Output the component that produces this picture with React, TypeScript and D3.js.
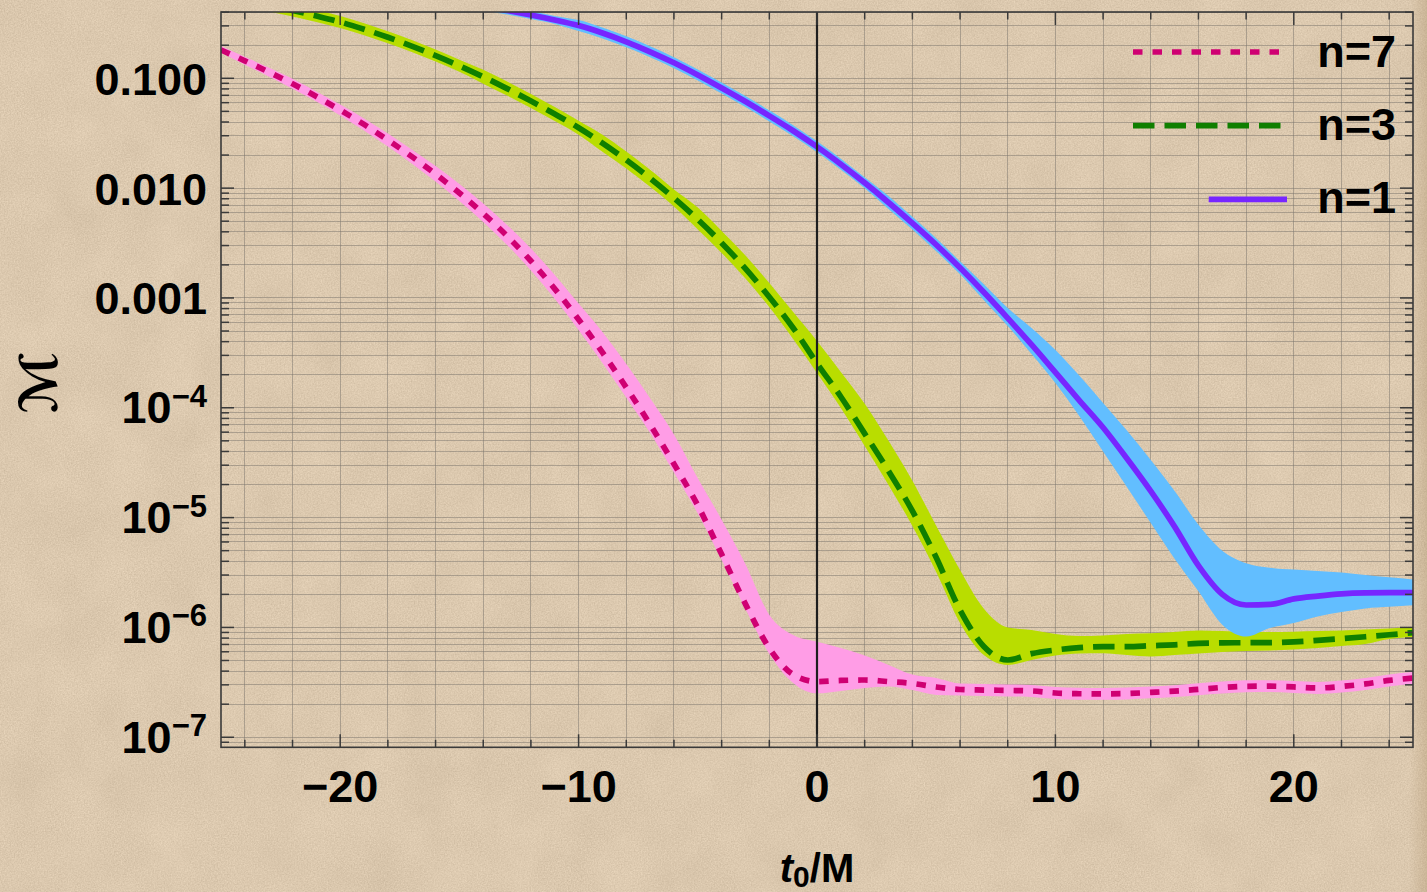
import React from 'react';
import * as d3 from 'd3';

// t0/M sample points
const t0 = [
  -25, -24, -23, -22, -21, -20, -19, -18, -17, -16, -15, -14, -13, -12, -11, -10, -9, -8, -7, -6, -5, -4, -3, -2, -1,
  0, 1, 2, 3, 4, 5, 6, 7, 8, 9, 10, 11, 12, 13, 14, 15, 16, 17, 18, 19, 20, 21, 22, 23, 24, 25,
];

// n = 7 (pink, dotted)
const n7Mid = [
  0.181, 0.1443, 0.1141, 0.0891, 0.0683, 0.0514, 0.038, 0.0274, 0.0194, 0.01342, 0.00903, 0.00587, 0.00367, 0.00217,
  0.00121, 6.37e-4, 3.19e-4, 1.53e-4, 7.05e-5, 3.08e-5, 1.29e-5, 4.63e-6, 1.63e-6, 6.47e-7, 3.73e-7,
  3.21e-7, 3.29e-7, 3.32e-7, 3.21e-7, 3.09e-7, 2.87e-7, 2.72e-7, 2.69e-7, 2.67e-7, 2.64e-7, 2.53e-7, 2.49e-7, 2.48e-7,
  2.5e-7, 2.56e-7, 2.63e-7, 2.73e-7, 2.84e-7, 2.91e-7, 2.92e-7, 2.87e-7, 2.81e-7, 2.9e-7, 3.06e-7, 3.29e-7, 3.46e-7,
];
const n7Hi = [
  0.197, 0.1569, 0.1254, 0.0989, 0.0758, 0.0577, 0.0431, 0.0314, 0.02247, 0.01588, 0.0109, 0.00724, 0.00462, 0.00282,
  0.00162, 8.9e-4, 4.9e-4, 2.5e-4, 1.22e-4, 5.72e-5, 2.28e-5, 9.57e-6, 3.77e-6, 1.3e-6, 8.53e-7,
  7.4e-7, 6.5e-7, 5.55e-7, 4.55e-7, 3.72e-7, 3.46e-7, 3.08e-7, 3.05e-7, 3.03e-7, 2.99e-7, 2.87e-7, 2.82e-7, 2.81e-7,
  2.84e-7, 2.9e-7, 2.98e-7, 3.1e-7, 3.22e-7, 3.3e-7, 3.31e-7, 3.25e-7, 3.19e-7, 3.29e-7, 3.47e-7, 3.73e-7, 3.92e-7,
];
const n7Lo = [
  0.1714, 0.1327, 0.1038, 0.0803, 0.0615, 0.0459, 0.0335, 0.0239, 0.01676, 0.01147, 0.00763, 0.00491, 0.00304, 0.00178,
  9.81e-4, 5.11e-4, 2.56e-4, 1.24e-4, 5.89e-5, 2.57e-5, 1.09e-5, 4.11e-6, 1.47e-6, 5.73e-7, 3.12e-7,
  2.51e-7, 2.64e-7, 2.81e-7, 2.9e-7, 2.69e-7, 2.43e-7, 2.4e-7, 2.37e-7, 2.35e-7, 2.33e-7, 2.23e-7, 2.2e-7, 2.19e-7,
  2.21e-7, 2.26e-7, 2.32e-7, 2.41e-7, 2.5e-7, 2.57e-7, 2.58e-7, 2.53e-7, 2.48e-7, 2.56e-7, 2.7e-7, 2.9e-7, 3.05e-7,
];

// n = 3 (green, dashed)
const n3Mid = [
  0.55, 0.5056, 0.46, 0.4144, 0.3693, 0.3256, 0.2793, 0.2362, 0.1964, 0.1609, 0.1299, 0.1032, 0.0806, 0.0621, 0.0473,
  0.0355, 0.02565, 0.01804, 0.01229, 0.00813, 0.00519, 0.00317, 0.00185, 0.00102, 5.33e-4,
  2.54e-4, 1.26e-4, 5.82e-5, 2.66e-5, 1.15e-5, 4.33e-6, 1.44e-6, 6.71e-7, 5.05e-7, 5.77e-7, 6.23e-7, 6.54e-7, 6.68e-7,
  6.68e-7, 6.81e-7, 6.95e-7, 7.16e-7, 7.23e-7, 7.26e-7, 7.28e-7, 7.39e-7, 7.62e-7, 7.9e-7, 8.22e-7, 8.57e-7, 8.96e-7,
];
const n3Hi = [
  0.624, 0.573, 0.522, 0.47, 0.419, 0.369, 0.3167, 0.2679, 0.2227, 0.1825, 0.1473, 0.1195, 0.0933, 0.0719, 0.0548,
  0.0411, 0.03065, 0.02156, 0.01469, 0.00972, 0.00667, 0.00408, 0.00243, 0.001368, 7.45e-4,
  4.06e-4, 2.12e-4, 1.09e-4, 5.0e-5, 2.17e-5, 8.44e-6, 3.33e-6, 1.48e-6, 9.99e-7, 9.48e-7, 8.72e-7, 8.36e-7, 8.45e-7,
  8.72e-7, 8.84e-7, 9.09e-7, 9.38e-7, 9.28e-7, 9.09e-7, 9.09e-7, 9.15e-7, 9.28e-7, 9.38e-7, 9.58e-7, 9.78e-7, 1.01e-6,
];
const n3Lo = [
  0.485, 0.446, 0.406, 0.3655, 0.326, 0.287, 0.2463, 0.2083, 0.1732, 0.1419, 0.1146, 0.0892, 0.0696, 0.0537, 0.0409,
  0.0307, 0.02147, 0.0151, 0.01029, 0.0068, 0.00421, 0.00257, 0.0015, 8.27e-4, 4.23e-4,
  2.07e-4, 9.96e-5, 4.49e-5, 1.98e-5, 8.39e-6, 3.2e-6, 1.1e-6, 5.61e-7, 4.55e-7, 5.05e-7, 5.55e-7, 5.79e-7, 5.81e-7,
  5.61e-7, 5.44e-7, 5.61e-7, 5.79e-7, 5.98e-7, 6.1e-7, 6.17e-7, 6.3e-7, 6.5e-7, 6.78e-7, 7.07e-7, 7.85e-7, 8.18e-7,
];

// n = 1 (purple, solid)
const n1Mid = [
  0.664, 0.65, 0.637, 0.624, 0.611, 0.598, 0.586, 0.567, 0.544, 0.516, 0.485, 0.4505, 0.4144, 0.377, 0.34, 0.302,
  0.2585, 0.215, 0.1743, 0.1384, 0.1072, 0.0816, 0.0614, 0.0455, 0.0333,
  0.0238, 0.01651, 0.01118, 0.0074, 0.0048, 0.00305, 0.00188, 0.001126, 6.56e-4, 3.75e-4, 2.1e-4, 1.17e-4, 6.61e-5,
  3.45e-5, 1.74e-5, 8.28e-6, 3.65e-6, 2.0e-6, 1.6e-6, 1.62e-6, 1.82e-6, 1.93e-6, 2.02e-6, 2.06e-6, 2.07e-6, 2.07e-6,
];
const n1Hi = [
  0.722, 0.707, 0.693, 0.679, 0.664, 0.65, 0.637, 0.617, 0.592, 0.561, 0.527, 0.49, 0.4507, 0.41, 0.37, 0.339, 0.29,
  0.2412, 0.1956, 0.1553, 0.1203, 0.0916, 0.0689, 0.0511, 0.0374,
  0.0267, 0.01852, 0.01254, 0.00848, 0.0055, 0.0035, 0.002154, 0.001332, 8.09e-4, 5.33e-4, 3.36e-4, 1.97e-4, 1.108e-4,
  6.22e-5, 3.35e-5, 1.75e-5, 8.62e-6, 5.0e-6, 3.85e-6, 3.5e-6, 3.36e-6, 3.27e-6, 3.16e-6, 3.0e-6, 2.86e-6, 2.73e-6,
];
const n1Lo = [
  0.611, 0.598, 0.586, 0.574, 0.562, 0.55, 0.539, 0.521, 0.5, 0.4745, 0.446, 0.414, 0.381, 0.3467, 0.3127, 0.269,
  0.2303, 0.1916, 0.1553, 0.1233, 0.0955, 0.0727, 0.0547, 0.0405, 0.0297,
  0.0212, 0.01471, 0.00996, 0.00646, 0.00419, 0.00266, 0.00164, 9.53e-4, 5.55e-4, 3.09e-4, 1.68e-4, 8.42e-5, 4.0e-5,
  1.9e-5, 8.93e-6, 4.23e-6, 2.13e-6, 1.06e-6, 8.27e-7, 9.89e-7, 1.1e-6, 1.26e-6, 1.38e-6, 1.49e-6, 1.54e-6, 1.59e-6,
];

const xMajor = [-20, -10, 0, 10, 20];
const xMinor = [-24, -22, -18, -16, -14, -12, -8, -6, -4, -2, 2, 4, 6, 8, 12, 14, 16, 18, 22, 24];
const yDecades = [0.1, 0.01, 0.001, 1e-4, 1e-5, 1e-6, 1e-7];
const yDecimalLabels = ['0.100', '0.010', '0.001'];
const yExponents = ['−4', '−5', '−6', '−7'];
const xLabels = ['−20', '−10', '0', '10', '20'];
const legendNames = ['n=7', 'n=3', 'n=1'];

const W = 1427;
const H = 892;
const left = 221, right = 1413, top = 12, bottom = 747.3;
const font = "'Liberation Sans', Arial, Helvetica, sans-serif";
const ink = '#3a3a3a';

const x = d3.scaleLinear().domain([-25, 25]).range([left, right]);
const y = d3.scaleLog().domain([8.1e-8, 0.4015]).range([bottom, top]);

const series = [
  { mid: n7Mid, lo: n7Lo, hi: n7Hi, band: '#ff9de6', line: '#cf0072', dash: '9.5 10' },
  { mid: n3Mid, lo: n3Lo, hi: n3Hi, band: '#b9dd00', line: '#0f7f00', dash: '21.5 10' },
  { mid: n1Mid, lo: n1Lo, hi: n1Hi, band: '#62beff', line: '#7726ff', dash: 'none' },
];

const area = (lo: number[], hi: number[]) =>
  d3.area<number>()
    .curve(d3.curveMonotoneX)
    .x((d) => x(d))
    .y0((_, i) => y(lo[i]))
    .y1((_, i) => y(hi[i]))(t0) as string;

const line = (v: number[]) =>
  d3.line<number>()
    .curve(d3.curveMonotoneX)
    .x((d) => x(d))
    .y((_, i) => y(v[i]))(t0) as string;

// minor grid values on the log axis (2..9 times each decade)
const yMinor: number[] = [];
[1e-8, 1e-7, 1e-6, 1e-5, 1e-4, 1e-3, 1e-2, 1e-1].forEach((dec) => {
  [2, 3, 4, 5, 6, 7, 8, 9].forEach((k) => {
    const v = k * dec;
    if (v > y.domain()[0] && v < y.domain()[1]) yMinor.push(v);
  });
});

export default function App() {
  const legendRows = [
    { y: 52, x1: 1133, x2: 1281, base: 67 },
    { y: 125.7, x1: 1133, x2: 1281, base: 140 },
    { y: 199.3, x1: 1208.7, x2: 1287, base: 213 },
  ];
  return (
    <svg
      width={W}
      height={H}
      viewBox={`0 0 ${W} ${H}`}
      style={{ position: 'absolute', left: 0, top: 0, display: 'block' }}
    >
      <defs>
        <filter
          id="paper"
          filterUnits="userSpaceOnUse"
          x="0"
          y="0"
          width={W}
          height={H}
          colorInterpolationFilters="sRGB"
        >
          <feTurbulence type="fractalNoise" baseFrequency="0.7" numOctaves="2" seed="4" result="fine" />
          <feTurbulence type="fractalNoise" baseFrequency="0.02" numOctaves="3" seed="9" result="coarse" />
          <feComposite in="fine" in2="coarse" operator="arithmetic" k1="0" k2="0.75" k3="0.25" k4="0" />
          <feColorMatrix
            type="matrix"
            values="0.17 0 0 0 0.775  0.17 0 0 0 0.7  0.17 0 0 0 0.598  0 0 0 0 1"
          />
        </filter>
        <linearGradient id="edge" x1="0" x2="1" y1="0" y2="0">
          <stop offset="0" stopColor="#8a6a3c" stopOpacity="0" />
          <stop offset="1" stopColor="#8a6a3c" stopOpacity="0.2" />
        </linearGradient>
        <clipPath id="plot">
          <rect x={left} y={top} width={W - left} height={bottom - top} />
        </clipPath>
      </defs>

      <rect x={0} y={0} width={W} height={H} filter="url(#paper)" />
      <rect x={W - 18} y={0} width={18} height={H} fill="url(#edge)" />

      {/* grid */}
      <g stroke="#7a746b" strokeOpacity={0.5} strokeWidth={1} shapeRendering="crispEdges">
        {[...xMinor, ...xMajor.filter((v) => v !== 0)].map((v) => (
          <line key={`gx${v}`} x1={x(v)} x2={x(v)} y1={top} y2={bottom} />
        ))}
        {[...yMinor, ...yDecades].map((v, i) => (
          <line key={`gy${i}`} x1={left} x2={right} y1={y(v)} y2={y(v)} />
        ))}
      </g>

      {/* bands and lines */}
      <g clipPath="url(#plot)">
        {series.map((s, i) => (
          <path key={`b${i}`} d={area(s.lo, s.hi)} fill={s.band} stroke="none" />
        ))}
        {series.map((s, i) => (
          <path
            key={`l${i}`}
            d={line(s.mid)}
            fill="none"
            stroke={s.line}
            strokeWidth={5.7}
            strokeDasharray={s.dash}
            strokeLinejoin="round"
          />
        ))}
      </g>

      {/* t0 = 0 marker */}
      <line x1={x(0)} x2={x(0)} y1={top} y2={bottom} stroke="#1e1e1e" strokeWidth={2.2} />

      {/* ticks */}
      <g stroke={ink} strokeWidth={1.5}>
        {xMajor.map((v) => (
          <g key={`tx${v}`}>
            <line x1={x(v)} x2={x(v)} y1={bottom} y2={bottom - 13} />
            <line x1={x(v)} x2={x(v)} y1={top} y2={top + 13} />
          </g>
        ))}
        {xMinor.map((v) => (
          <g key={`tm${v}`}>
            <line x1={x(v)} x2={x(v)} y1={bottom} y2={bottom - 7.5} />
            <line x1={x(v)} x2={x(v)} y1={top} y2={top + 7.5} />
          </g>
        ))}
        {yDecades.map((v) => (
          <g key={`ty${v}`}>
            <line x1={left} x2={left + 13} y1={y(v)} y2={y(v)} />
            <line x1={right} x2={right - 13} y1={y(v)} y2={y(v)} />
          </g>
        ))}
        {yMinor.map((v, i) => (
          <g key={`tym${i}`}>
            <line x1={left} x2={left + 8} y1={y(v)} y2={y(v)} />
            <line x1={right} x2={right - 8} y1={y(v)} y2={y(v)} />
          </g>
        ))}
      </g>

      {/* frame */}
      <rect x={left} y={top} width={right - left} height={bottom - top} fill="none" stroke={ink} strokeWidth={1.6} />

      {/* tick labels */}
      <g fontFamily={font} fontWeight="bold" fill="#000">
        {xMajor.map((v, i) => (
          <text key={`lx${v}`} x={x(v)} y={802} fontSize={45} textAnchor="middle">
            {xLabels[i]}
          </text>
        ))}
        {yDecades.slice(0, 3).map((v, i) => (
          <text key={`ly${i}`} x={207} y={y(v) + 16.5} fontSize={45} textAnchor="end">
            {yDecimalLabels[i]}
          </text>
        ))}
        {yDecades.slice(3).map((v, i) => (
          <text key={`le${i}`} x={207} y={y(v) + 15.5} fontSize={45} textAnchor="end">
            10
            <tspan fontSize={31} dy={-16.5}>
              {yExponents[i]}
            </tspan>
          </text>
        ))}
      </g>

      {/* axis labels */}
      <text x={817} y={881.5} fontFamily={font} fontWeight="bold" fontSize={40} textAnchor="middle" fill="#000">
        <tspan fontStyle="italic">t</tspan>
        <tspan fontSize={30} dy={5.5}>0</tspan>
        <tspan dy={-5.5}>/M</tspan>
      </text>
      <text
        transform="translate(57,383) rotate(-90)"
        fontFamily="'DejaVu Serif', 'DejaVu Sans', serif"
        fontWeight="bold"
        fontSize={52}
        textAnchor="middle"
        fill="#000"
      >
        ℳ
      </text>

      {/* legend */}
      {legendRows.map((r, i) => (
        <g key={`leg${i}`}>
          <line
            x1={r.x1}
            x2={r.x2}
            y1={r.y}
            y2={r.y}
            stroke={series[i].line}
            strokeWidth={5.7}
            strokeDasharray={series[i].dash}
          />
          <text x={1396} y={r.base} fontFamily={font} fontWeight="bold" fontSize={45} textAnchor="end" fill="#000">
            {legendNames[i]}
          </text>
        </g>
      ))}
    </svg>
  );
}
